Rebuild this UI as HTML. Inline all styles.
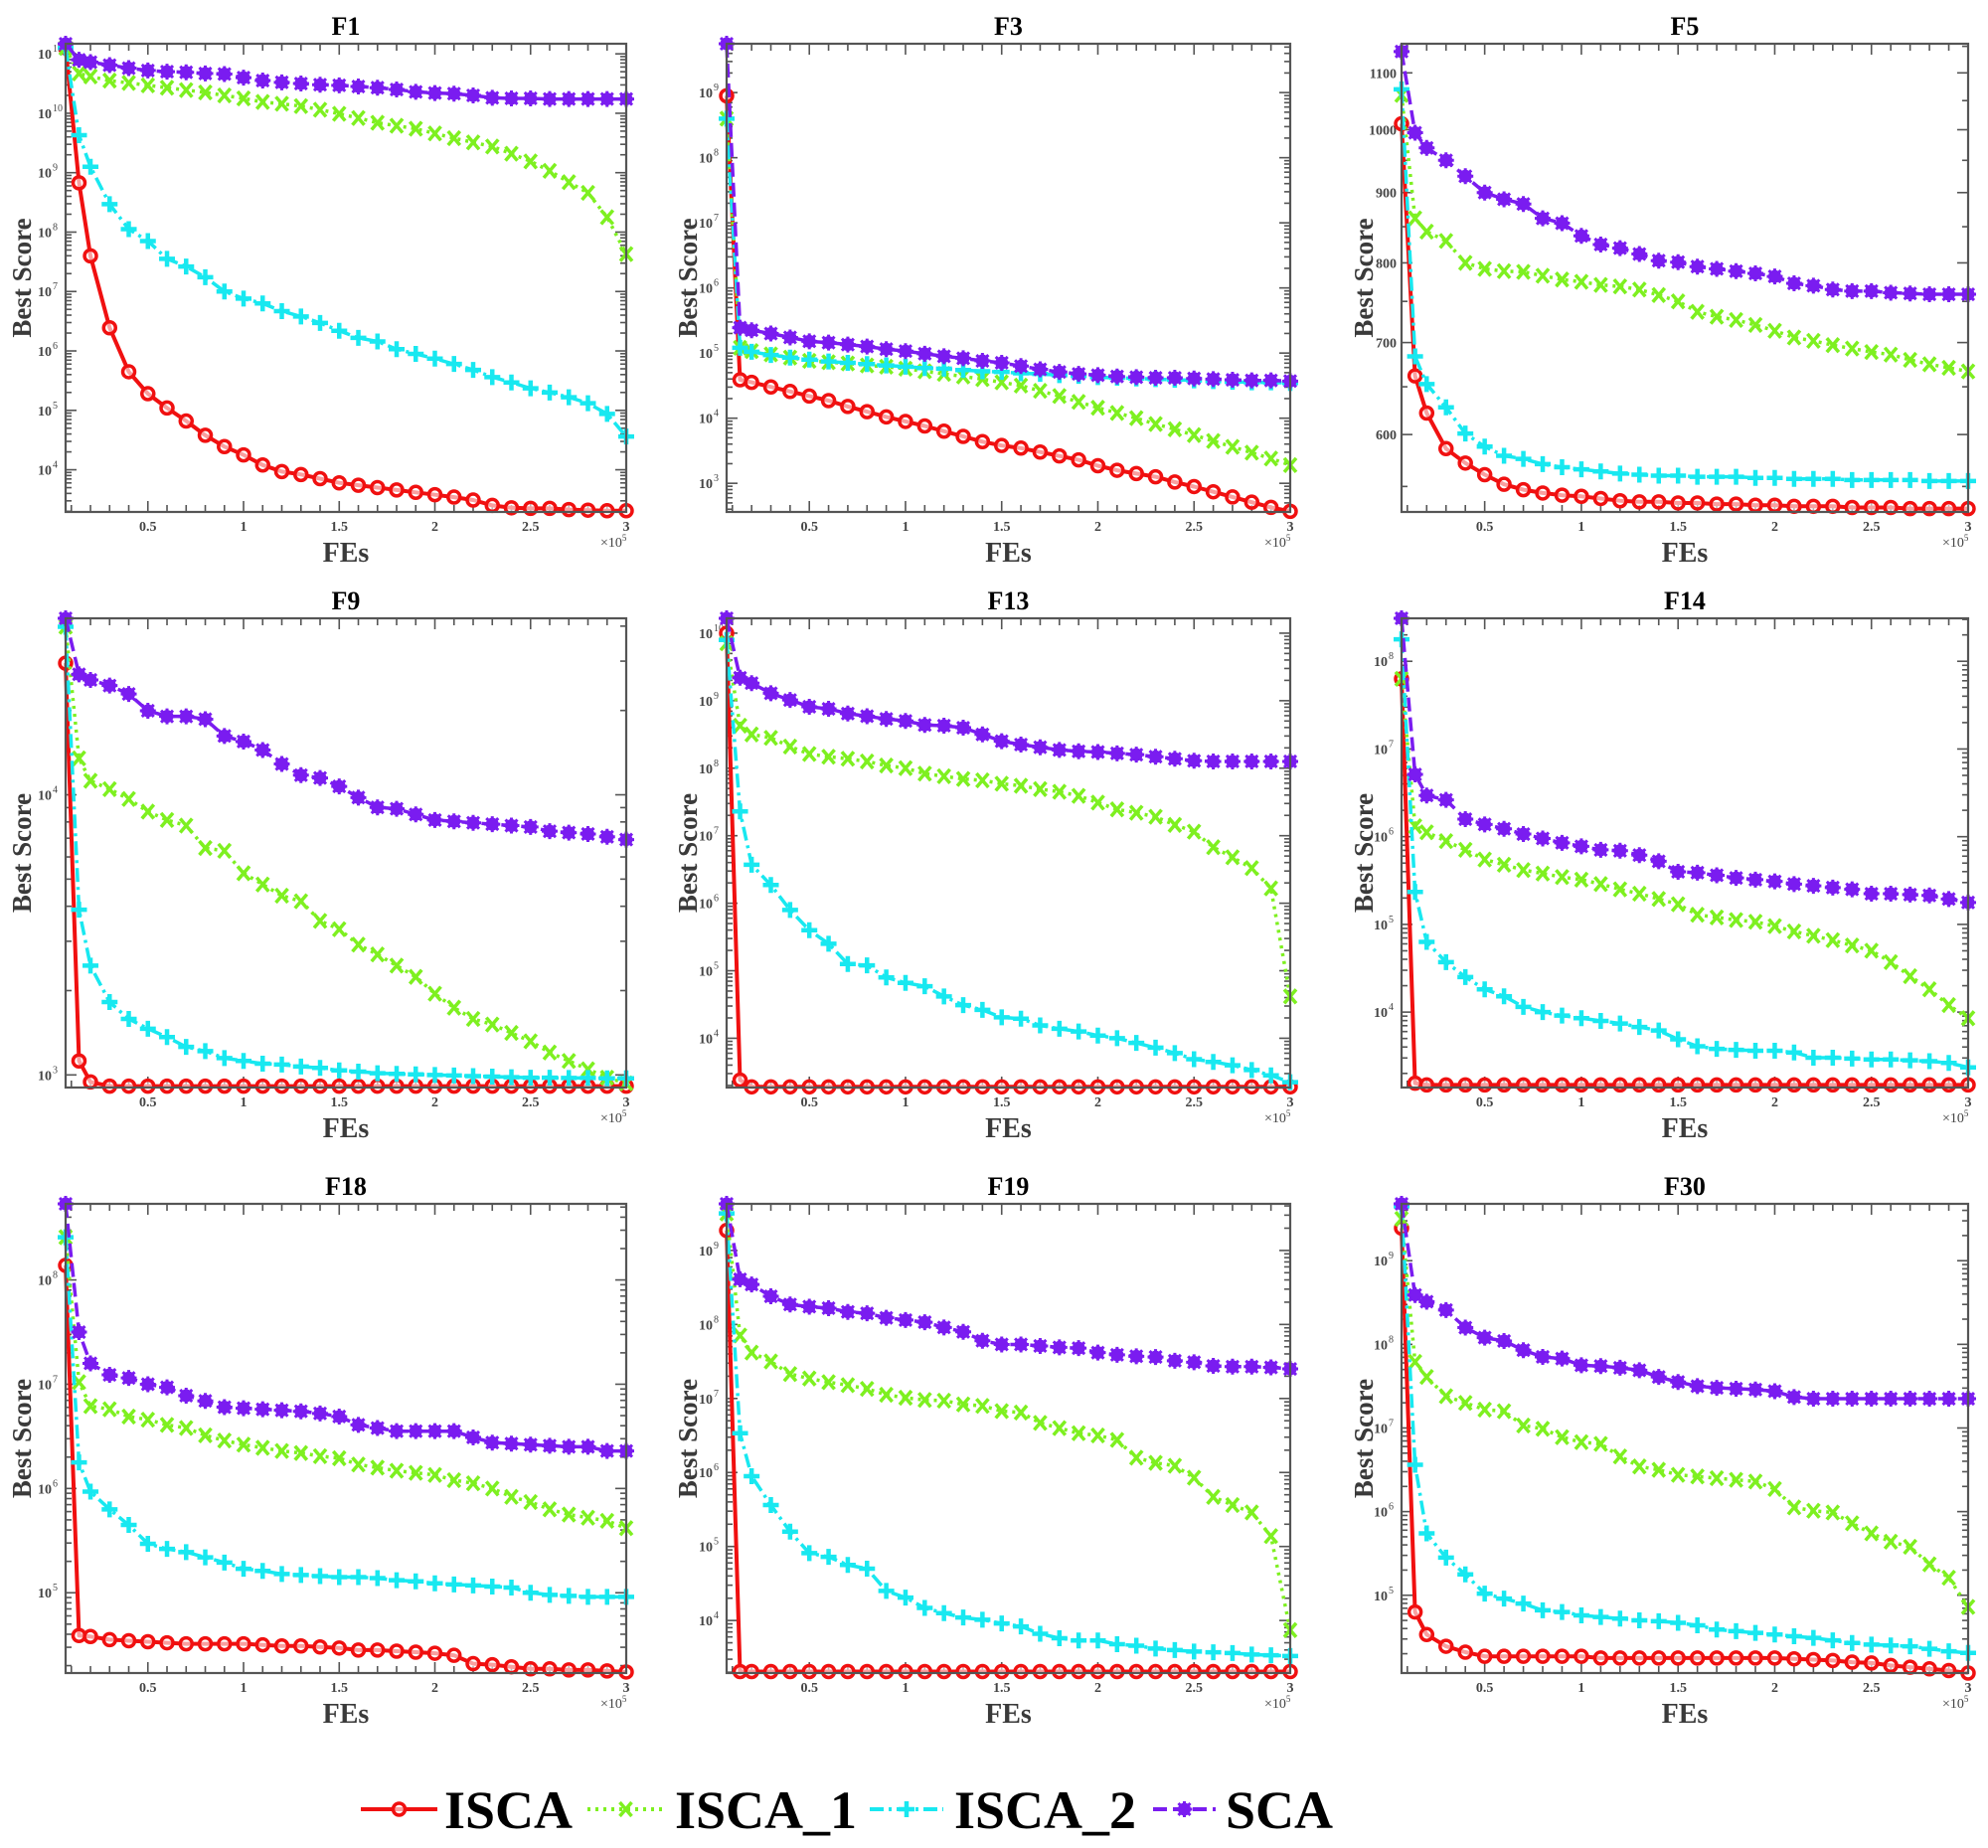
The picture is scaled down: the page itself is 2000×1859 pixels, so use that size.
<!DOCTYPE html>
<html><head><meta charset="utf-8"><title>Convergence curves</title>
<style>html,body{margin:0;padding:0;background:#fff}svg{display:block}</style></head>
<body>
<svg id="fig" xmlns="http://www.w3.org/2000/svg" width="2000" height="1859" viewBox="0 0 2000 1859"></svg>
<script>
// x positions (FEs, in units of 1e5)
const fes = [0.07,0.14,0.2,0.3,0.4,0.5,0.6,0.7,0.8,0.9,1.0,1.1,1.2,1.3,1.4,1.5,1.6,1.7,1.8,1.9,2.0,2.1,2.2,2.3,2.4,2.5,2.6,2.7,2.8,2.9,3.0];
const xTicks = [0.5,1,1.5,2,2.5,3];
const xTickLabels = ["0.5","1","1.5","2","2.5","3"];
const seriesNames = ["ISCA","ISCA_1","ISCA_2","SCA"];

// values: log10(best score) for all panels except F5 (raw best score)
const f1Isca  = [11.1,8.83,7.6,6.39,5.65,5.28,5.04,4.82,4.58,4.39,4.25,4.08,3.97,3.92,3.85,3.78,3.74,3.7,3.66,3.62,3.58,3.54,3.49,3.4,3.36,3.35,3.35,3.33,3.32,3.31,3.31];
const f1Isca1 = [11.1,10.67,10.62,10.55,10.51,10.47,10.43,10.39,10.35,10.3,10.25,10.19,10.16,10.12,10.06,9.99,9.92,9.84,9.79,9.74,9.66,9.58,9.51,9.44,9.32,9.19,9.03,8.84,8.66,8.25,7.63];
const f1Isca2 = [11.1,9.63,9.1,8.47,8.05,7.85,7.55,7.42,7.24,7.0,6.88,6.8,6.67,6.58,6.47,6.34,6.22,6.16,6.03,5.95,5.87,5.78,5.68,5.56,5.47,5.37,5.3,5.22,5.12,4.94,4.56];
const f1Sca   = [11.17,10.9,10.86,10.81,10.76,10.72,10.7,10.69,10.67,10.66,10.6,10.55,10.52,10.5,10.48,10.47,10.45,10.43,10.4,10.36,10.34,10.33,10.3,10.26,10.25,10.25,10.24,10.24,10.24,10.24,10.24];

const f3Isca  = [8.95,4.59,4.55,4.48,4.41,4.34,4.27,4.18,4.1,4.02,3.95,3.88,3.8,3.72,3.64,3.58,3.54,3.48,3.42,3.36,3.27,3.2,3.15,3.1,3.02,2.95,2.87,2.79,2.71,2.63,2.57];
const f3Isca1 = [8.6,5.08,5.03,4.98,4.93,4.88,4.86,4.84,4.81,4.79,4.76,4.72,4.68,4.64,4.6,4.55,4.5,4.42,4.34,4.25,4.16,4.08,4.0,3.91,3.83,3.74,3.65,3.56,3.47,3.38,3.28];
const f3Isca2 = [8.6,5.08,5.02,4.97,4.93,4.9,4.87,4.85,4.83,4.81,4.79,4.77,4.76,4.74,4.72,4.71,4.69,4.68,4.66,4.65,4.63,4.62,4.61,4.6,4.59,4.58,4.57,4.56,4.55,4.55,4.54];
const f3Sca   = [9.75,5.39,5.35,5.3,5.24,5.18,5.16,5.13,5.1,5.06,5.03,4.99,4.95,4.92,4.88,4.85,4.8,4.75,4.71,4.68,4.66,4.64,4.63,4.62,4.62,4.61,4.6,4.59,4.58,4.58,4.57];

const f5Isca  = [1010,662,622,586,572,561,552,547,544,542,541,539,537,536,536,535,535,534,534,533,533,532,532,532,531,531,531,530,530,530,530];
const f5Isca1 = [1060,862,843,830,800,792,789,788,783,778,775,771,769,765,758,750,737,731,727,721,714,706,702,697,693,689,686,680,675,671,667];
const f5Isca2 = [1070,684,653,628,601,588,579,576,571,568,566,564,562,561,560,560,559,559,559,558,558,557,557,557,556,556,556,556,555,555,555];
const f5Sca   = [1140,995,970,950,925,900,890,883,862,855,837,825,820,812,803,801,795,792,789,786,782,773,770,765,763,763,761,760,759,759,759];

const f9Isca  = [4.47,3.05,2.975,2.96,2.96,2.96,2.96,2.96,2.96,2.96,2.96,2.96,2.96,2.96,2.96,2.96,2.96,2.96,2.96,2.96,2.96,2.96,2.96,2.96,2.96,2.96,2.96,2.96,2.96,2.96,2.96];
const f9Isca1 = [4.6,4.13,4.05,4.02,3.985,3.94,3.91,3.89,3.81,3.8,3.72,3.68,3.64,3.62,3.55,3.52,3.465,3.43,3.39,3.35,3.29,3.24,3.2,3.18,3.15,3.12,3.08,3.05,3.02,2.99,2.97];
const f9Isca2 = [4.6,3.59,3.39,3.26,3.2,3.165,3.135,3.1,3.085,3.06,3.05,3.04,3.037,3.03,3.025,3.016,3.012,3.006,3.004,3.002,3.0,2.998,2.996,2.994,2.992,2.99,2.99,2.989,2.989,2.988,2.988];
const f9Sca   = [4.63,4.43,4.41,4.39,4.36,4.3,4.28,4.28,4.27,4.21,4.19,4.16,4.11,4.07,4.06,4.03,3.99,3.955,3.95,3.93,3.91,3.905,3.9,3.895,3.89,3.885,3.87,3.865,3.86,3.85,3.84];

const f13Isca  = [10.0,3.38,3.28,3.28,3.28,3.28,3.28,3.28,3.28,3.28,3.28,3.28,3.28,3.28,3.28,3.28,3.28,3.28,3.28,3.28,3.28,3.28,3.28,3.28,3.28,3.28,3.28,3.28,3.28,3.28,3.28];
const f13Isca1 = [9.85,8.63,8.5,8.45,8.32,8.21,8.17,8.14,8.1,8.04,8.0,7.92,7.88,7.84,7.82,7.77,7.74,7.69,7.65,7.59,7.49,7.39,7.34,7.28,7.16,7.06,6.83,6.68,6.52,6.22,4.62];
const f13Isca2 = [9.9,7.36,6.57,6.27,5.9,5.6,5.4,5.1,5.08,4.9,4.82,4.77,4.62,4.49,4.42,4.31,4.29,4.19,4.14,4.1,4.04,4.0,3.93,3.86,3.78,3.69,3.65,3.6,3.53,3.45,3.35];
const f13Sca   = [10.22,9.34,9.26,9.11,9.01,8.91,8.88,8.81,8.77,8.73,8.7,8.64,8.63,8.6,8.5,8.4,8.35,8.31,8.27,8.25,8.24,8.22,8.2,8.17,8.14,8.11,8.1,8.1,8.1,8.1,8.1];

const f14Isca  = [7.8,3.19,3.17,3.17,3.17,3.17,3.17,3.17,3.17,3.17,3.17,3.17,3.17,3.17,3.17,3.17,3.17,3.17,3.17,3.17,3.17,3.17,3.17,3.17,3.17,3.17,3.17,3.17,3.17,3.17,3.17];
const f14Isca1 = [7.8,6.12,6.05,5.95,5.85,5.74,5.68,5.62,5.58,5.54,5.51,5.46,5.4,5.35,5.29,5.23,5.11,5.08,5.05,5.03,4.98,4.92,4.87,4.82,4.76,4.7,4.57,4.41,4.26,4.08,3.93];
const f14Isca2 = [8.25,5.37,4.8,4.57,4.4,4.26,4.18,4.06,4.0,3.96,3.93,3.9,3.87,3.83,3.79,3.69,3.61,3.58,3.57,3.56,3.56,3.54,3.48,3.48,3.47,3.46,3.46,3.45,3.44,3.42,3.37];
const f14Sca   = [8.49,6.71,6.47,6.42,6.2,6.14,6.09,6.03,5.98,5.93,5.89,5.85,5.84,5.79,5.72,5.6,5.59,5.56,5.53,5.51,5.49,5.46,5.44,5.42,5.4,5.35,5.35,5.34,5.33,5.29,5.25];

const f18Isca  = [8.14,4.59,4.58,4.55,4.54,4.53,4.52,4.51,4.51,4.51,4.51,4.5,4.49,4.49,4.48,4.47,4.45,4.45,4.44,4.43,4.42,4.4,4.32,4.31,4.29,4.27,4.27,4.26,4.26,4.25,4.24];
const f18Isca1 = [8.41,7.02,6.79,6.76,6.69,6.66,6.61,6.58,6.51,6.46,6.42,6.39,6.36,6.34,6.31,6.29,6.23,6.2,6.17,6.15,6.13,6.08,6.05,6.0,5.92,5.87,5.8,5.75,5.72,5.69,5.62];
const f18Isca2 = [8.41,6.25,5.97,5.8,5.65,5.47,5.42,5.39,5.34,5.29,5.23,5.21,5.18,5.17,5.16,5.15,5.15,5.14,5.12,5.11,5.09,5.08,5.07,5.06,5.05,5.0,4.98,4.97,4.96,4.96,4.96];
const f18Sca   = [8.73,7.5,7.2,7.09,7.06,7.0,6.97,6.89,6.84,6.78,6.77,6.76,6.75,6.74,6.72,6.69,6.61,6.58,6.55,6.55,6.55,6.55,6.49,6.44,6.43,6.42,6.41,6.4,6.4,6.36,6.36];

const f19Isca  = [9.27,3.31,3.31,3.31,3.31,3.31,3.31,3.31,3.31,3.31,3.31,3.31,3.31,3.31,3.31,3.31,3.31,3.31,3.31,3.31,3.31,3.31,3.31,3.31,3.31,3.31,3.31,3.31,3.31,3.31,3.31];
const f19Isca1 = [9.5,7.85,7.62,7.5,7.33,7.27,7.22,7.18,7.13,7.05,7.01,6.98,6.97,6.92,6.9,6.83,6.81,6.67,6.6,6.53,6.5,6.44,6.2,6.13,6.09,5.93,5.67,5.56,5.46,5.14,3.87];
const f19Isca2 = [9.5,6.53,5.95,5.56,5.2,4.91,4.86,4.75,4.7,4.4,4.31,4.17,4.1,4.04,4.01,3.96,3.92,3.82,3.76,3.73,3.73,3.68,3.66,3.62,3.6,3.58,3.57,3.56,3.54,3.53,3.52];
const f19Sca   = [9.63,8.61,8.54,8.38,8.27,8.24,8.22,8.17,8.15,8.09,8.06,8.03,7.96,7.9,7.78,7.73,7.73,7.71,7.69,7.68,7.62,7.59,7.57,7.56,7.51,7.49,7.44,7.43,7.43,7.42,7.4];

const f30Isca  = [9.39,4.8,4.53,4.39,4.32,4.27,4.27,4.27,4.27,4.27,4.27,4.25,4.25,4.25,4.25,4.25,4.25,4.25,4.25,4.25,4.25,4.24,4.23,4.22,4.2,4.19,4.16,4.14,4.12,4.1,4.07];
const f30Isca1 = [9.5,7.79,7.61,7.38,7.3,7.22,7.2,7.03,6.99,6.89,6.83,6.81,6.66,6.54,6.5,6.44,6.42,6.4,6.38,6.36,6.27,6.05,6.01,5.99,5.86,5.74,5.64,5.58,5.37,5.21,4.86];
const f30Isca2 = [9.65,6.56,5.74,5.45,5.25,5.02,4.96,4.9,4.82,4.8,4.76,4.74,4.72,4.7,4.69,4.67,4.64,4.59,4.57,4.55,4.53,4.51,4.49,4.46,4.43,4.41,4.4,4.39,4.36,4.33,4.31];
const f30Sca   = [9.68,8.59,8.51,8.41,8.2,8.08,8.04,7.93,7.85,7.83,7.75,7.74,7.72,7.69,7.61,7.55,7.5,7.48,7.47,7.46,7.44,7.37,7.35,7.35,7.35,7.35,7.35,7.35,7.35,7.35,7.35];

// decade tick exponents per panel
const f1Decades = [4,5,6,7,8,9,10,11];
const f3Decades = [3,4,5,6,7,8,9];
const f5TickValues = [600,700,800,900,1000,1100];
const f9Decades = [3,4];
const f13Decades = [4,5,6,7,8,9,10];
const f14Decades = [4,5,6,7,8];
const f18Decades = [5,6,7,8];
const f19Decades = [4,5,6,7,8,9];
const f30Decades = [5,6,7,8,9];

const NS = "http://www.w3.org/2000/svg";
const svg = document.getElementById('fig');
const colX = [[66,630],[731,1298],[1410,1980]];
const rowY = [[44,515],[622,1094],[1211,1683]];
const labelX = [22,692,1372];
const COLORS = ["#f01010","#7ef020","#18e8f0","#7a1cf0"];
const DASH = ["", "3 5", "14 5 3 5", "14 6"];
const GRAY = "#444";

function mk(tag, attrs, parent){
  const e = document.createElementNS(NS, tag);
  for (const k in attrs) e.setAttribute(k, attrs[k]);
  (parent||svg).appendChild(e);
  return e;
}

const panels = [
  {title:"F1", c:0, r:0, lo:3.29, hi:11.17, raw:false, ticks:f1Decades, s:[f1Isca,f1Isca1,f1Isca2,f1Sca]},
  {title:"F3", c:1, r:0, lo:2.56, hi:9.75, raw:false, ticks:f3Decades, s:[f3Isca,f3Isca1,f3Isca2,f3Sca]},
  {title:"F5", c:2, r:0, lo:Math.log10(527), hi:Math.log10(1155), raw:true, ticks:f5TickValues, s:[f5Isca,f5Isca1,f5Isca2,f5Sca]},
  {title:"F9", c:0, r:1, lo:2.955, hi:4.63, raw:false, ticks:f9Decades, s:[f9Isca,f9Isca1,f9Isca2,f9Sca]},
  {title:"F13", c:1, r:1, lo:3.27, hi:10.22, raw:false, ticks:f13Decades, s:[f13Isca,f13Isca1,f13Isca2,f13Sca]},
  {title:"F14", c:2, r:1, lo:3.14, hi:8.49, raw:false, ticks:f14Decades, s:[f14Isca,f14Isca1,f14Isca2,f14Sca]},
  {title:"F18", c:0, r:2, lo:4.23, hi:8.73, raw:false, ticks:f18Decades, s:[f18Isca,f18Isca1,f18Isca2,f18Sca]},
  {title:"F19", c:1, r:2, lo:3.29, hi:9.63, raw:false, ticks:f19Decades, s:[f19Isca,f19Isca1,f19Isca2,f19Sca]},
  {title:"F30", c:2, r:2, lo:4.07, hi:9.68, raw:false, ticks:f30Decades, s:[f30Isca,f30Isca1,f30Isca2,f30Sca]}
];

function drawMarker(g, k, x, y){
  const col = COLORS[k];
  if (k===0){
    const m = mk('circle',{cx:x,cy:y,r:6,fill:'#fff','fill-opacity':0.6,stroke:col,'stroke-width':3.5},g);
    
    
  } else if (k===1){
    const m = mk('path',{d:`M${x-6},${y-7}L${x+6},${y+7}M${x-6},${y+7}L${x+6},${y-7}`,stroke:col,'stroke-width':3.5,fill:'none'},g);
    
    
  } else if (k===2){
    const m = mk('path',{d:`M${x-8},${y}L${x+8},${y}M${x},${y-8}L${x},${y+8}`,stroke:col,'stroke-width':4.5,fill:'none'},g);
    
    
  } else {
    const m = mk('g',{},g);
    
    
    mk('circle',{cx:x,cy:y,r:6.5,fill:col},m);
    mk('path',{d:`M${x-8},${y}L${x+8},${y}M${x},${y-8}L${x},${y+8}M${x-6},${y-6}L${x+6},${y+6}M${x-6},${y+6}L${x+6},${y-6}`,stroke:col,'stroke-width':3},m);
  }
}

panels.forEach(p=>{
  const [L,R] = colX[p.c], [T,B] = rowY[p.r];
  const xs = v => L + (v-0.07)/(3.0-0.07)*(R-L);
  const ys = v => { const lv = p.raw ? Math.log10(v) : v; return B - (lv-p.lo)/(p.hi-p.lo)*(B-T); };
  const yOfLog = lv => B - (lv-p.lo)/(p.hi-p.lo)*(B-T);
  const g = mk('g',{});
  
  

  const t = mk('text',{x:(L+R)/2,y:T-9,'text-anchor':'middle','font-family':'Liberation Serif, serif','font-weight':'bold','font-size':26,fill:'#000'},g);
  t.textContent = p.title;
  
  

  // x ticks
  const xt = mk('g',{stroke:'#555','stroke-width':1.6},g);
  
  
  for (let i=1;i<=30;i++){
    const v=i/10; if (v<0.07) continue;
    const X=xs(v), len=(i%5===0)?11:7;
    mk('line',{x1:X,y1:B,x2:X,y2:B-len},xt);
    mk('line',{x1:X,y1:T,x2:X,y2:T+len},xt);
  }
  xTicks.forEach((v,i)=>{
    const tx = mk('text',{x:xs(v),y:B+19,'text-anchor':'middle','font-family':'Liberation Serif, serif','font-weight':'bold','font-size':14,fill:GRAY},g);
    tx.textContent = xTickLabels[i];
    
    
  });
  const ex = mk('text',{x:R-26,y:B+35,'font-family':'Liberation Serif, serif','font-size':14,fill:GRAY},g);
  
  
  ex.textContent='×10';
  const exs = mk('tspan',{dy:-6,'font-size':9},ex); exs.textContent='5';

  const xl = mk('text',{x:(L+R)/2,y:B+50,'text-anchor':'middle','font-family':'Liberation Serif, serif','font-weight':'bold','font-size':28,fill:'#3a3a3a'},g);
  xl.textContent='FEs';
  
  

  const yl = mk('text',{x:0,y:0,transform:`translate(${labelX[p.c]+9},${(T+B)/2}) rotate(-90)`,'text-anchor':'middle','font-family':'Liberation Serif, serif','font-weight':'bold','font-size':27,fill:'#3a3a3a'},g);
  yl.textContent='Best Score';
  
  

  // y ticks
  const yt = mk('g',{stroke:'#555','stroke-width':1.6},g);
  
  
  if (p.raw){
    for (let v=550; v<=1150; v+=50){
      const Y=ys(v); if (Y<T||Y>B) continue;
      const len=(v%100===0)?11:6;
      mk('line',{x1:L,y1:Y,x2:L+len,y2:Y},yt);
      mk('line',{x1:R,y1:Y,x2:R-len,y2:Y},yt);
    }
    p.ticks.forEach(v=>{
      const ty = mk('text',{x:L-5,y:ys(v)+5,'text-anchor':'end','font-family':'Liberation Serif, serif','font-weight':'bold','font-size':14,fill:GRAY},g);
      ty.textContent = String(v);
      
      
    });
  } else {
    for (let d=Math.floor(p.lo); d<=Math.ceil(p.hi); d++){
      for (let m=1;m<=9;m++){
        const lv=d+Math.log10(m); const Y=yOfLog(lv);
        if (Y<T-0.5||Y>B+0.5) continue;
        const len=(m===1)?11:6;
        mk('line',{x1:L,y1:Y,x2:L+len,y2:Y},yt);
        mk('line',{x1:R,y1:Y,x2:R-len,y2:Y},yt);
      }
    }
    p.ticks.forEach(d=>{
      const Y=yOfLog(d);
      const ty = mk('text',{x:L-14,y:Y+5,'text-anchor':'end','font-family':'Liberation Serif, serif','font-weight':'bold','font-size':14,fill:GRAY},g);
      ty.textContent='10';
      
      
      const sup = mk('text',{x:L-13,y:Y-2,'font-family':'Liberation Serif, serif','font-size':10,fill:GRAY},g);
      sup.textContent=String(d);
      
      
    });
  }

  const clipId='clip'+p.title;
  const cp = mk('clipPath',{id:clipId},g);
  mk('rect',{x:L-12,y:T-12,width:R-L+24,height:B-T+24},cp);

  p.s.forEach((vals,k)=>{
    const sg = mk('g',{'clip-path':`url(#${clipId})`},g);
    
    
    const pts = vals.map((v,i)=>`${xs(fes[i]).toFixed(1)},${ys(v).toFixed(1)}`).join(' ');
    const ln = mk('polyline',{points:pts,fill:'none',stroke:COLORS[k],'stroke-width':k===0?4:3.5,'stroke-dasharray':DASH[k],'stroke-linejoin':'round'},sg);
    
    
    vals.forEach((v,i)=>drawMarker(sg,k,xs(fes[i]),ys(v)));
  });

  const box = mk('rect',{x:L,y:T,width:R-L,height:B-T,fill:'none',stroke:'#555','stroke-width':2.2},g);
  
  
});

// legend
const lg = mk('g',{});


const legendItems = [[363,440,447],[591,668,679],[875,949,960],[1160,1223,1233]];
legendItems.forEach((it,k)=>{
  const e = mk('g',{},lg);
  
  
  mk('line',{x1:it[0],y1:1820,x2:it[1],y2:1820,stroke:COLORS[k],'stroke-width':4,'stroke-dasharray':DASH[k]},e);
  drawMarker(e,k,(it[0]+it[1])/2,1820);
  const tx = mk('text',{x:it[2],y:1839,'font-family':'Liberation Serif, serif','font-weight':'bold','font-size':54,fill:'#000'},e);
  tx.textContent = seriesNames[k];
});
</script>
</body></html>
